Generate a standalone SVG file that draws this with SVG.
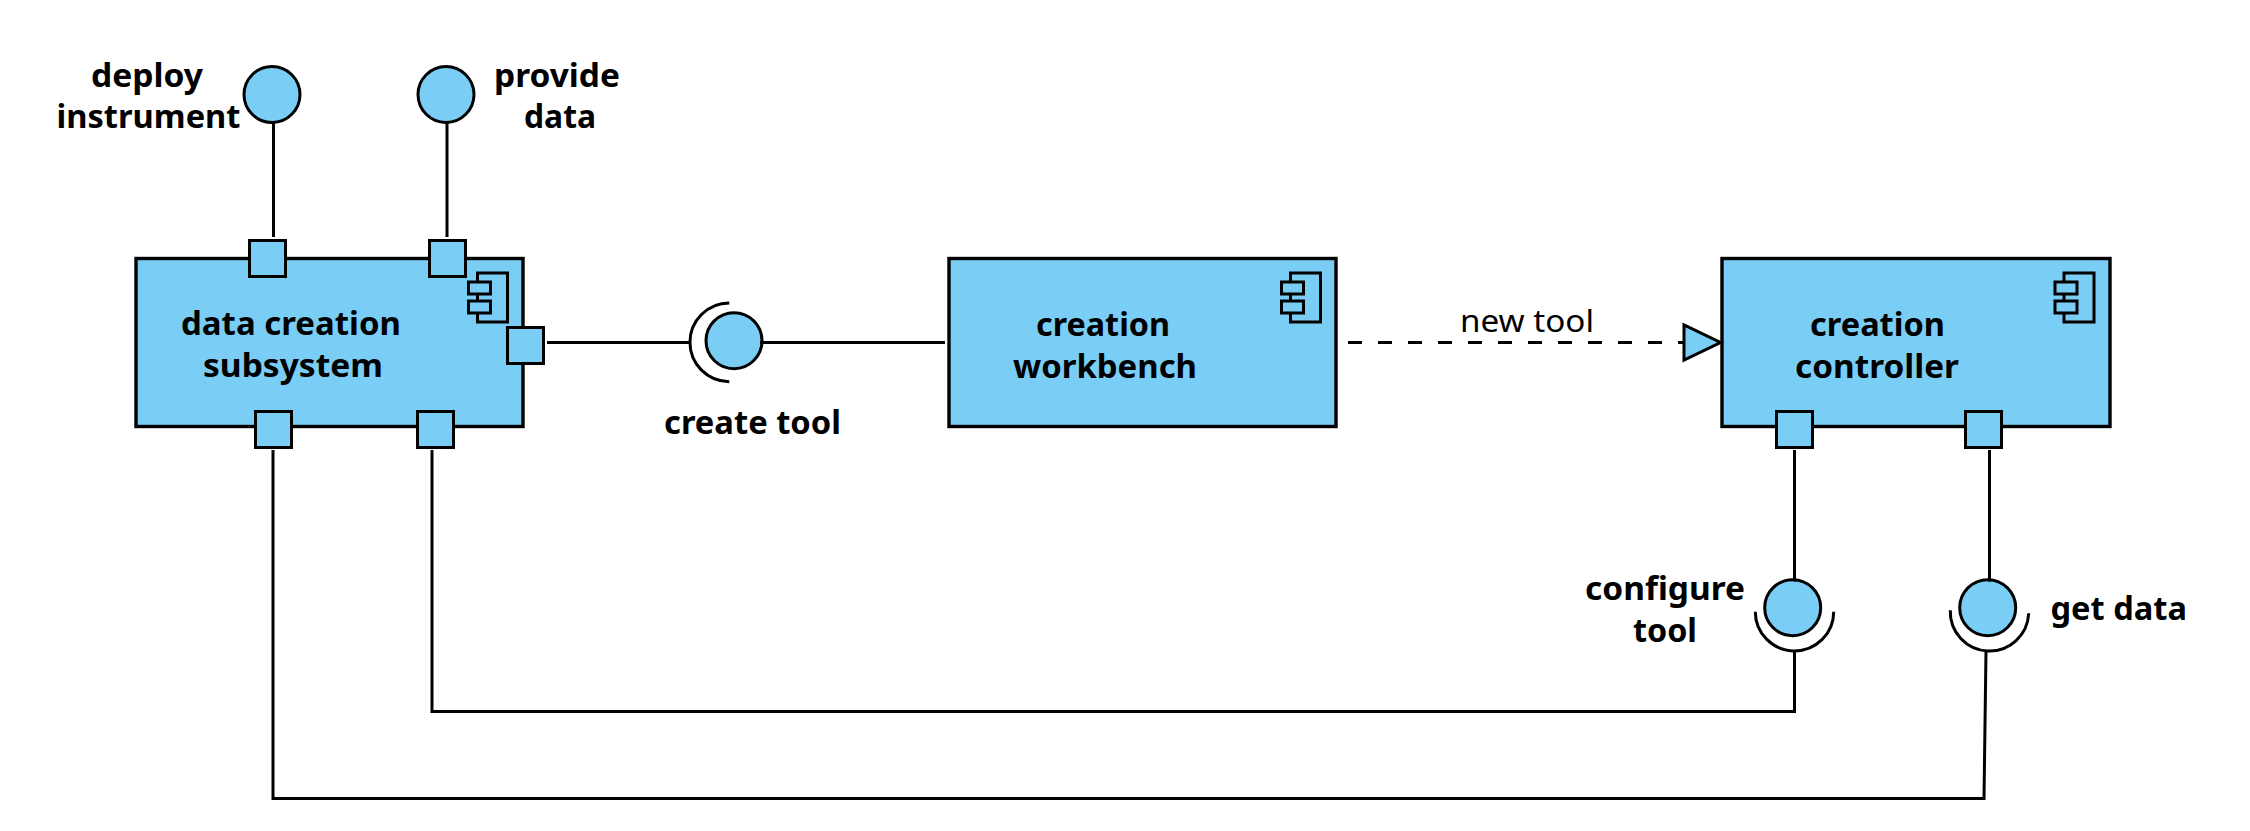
<svg xmlns="http://www.w3.org/2000/svg" width="2250" height="831" viewBox="0 0 2250 831">
<style>
.f{fill:#7acef5}
.n{fill:#7acef5;stroke:#000;stroke-width:3}
.b{fill:none;stroke:#000;stroke-width:3.4}
.i{fill:#7acef5;stroke:#000;stroke-width:3}
.c{fill:none;stroke:#000;stroke-width:3}
.a{fill:none;stroke:#000;stroke-width:3}
.l{font-family:"Noto Sans","Liberation Sans",sans-serif;font-size:32px;font-weight:700;fill:#000}
.e{font-family:"Noto Sans","DejaVu Sans",sans-serif;font-size:31px;fill:#000}
</style>
<defs>
<g id="icon"><rect class="i" x="9" y="0" width="30" height="49"/><rect class="i" x="0" y="9" width="22" height="12"/><rect class="i" x="0" y="28" width="22" height="12"/></g>
</defs>
<rect width="2250" height="831" fill="#fff"/>
<g id="data-creation-subsystem">
<rect class="f" x="136" y="258.500" width="388" height="169"/>
<rect class="b" x="136" y="258.500" width="387" height="168"/>
<use href="#icon" x="468.500" y="273"/>
<text class="l" x="181" y="335" textLength="220" lengthAdjust="spacingAndGlyphs">data creation</text>
<text class="l" x="203" y="377" textLength="180" lengthAdjust="spacingAndGlyphs">subsystem</text>
</g>
<g id="port-deploy"><rect class="n" x="249.500" y="240.500" width="36" height="36"/></g>
<g id="port-provide"><rect class="n" x="429.500" y="240.500" width="36" height="36"/></g>
<g id="port-create"><rect class="n" x="507.500" y="327.500" width="36" height="36"/></g>
<g id="port-bottom-1"><rect class="n" x="255.500" y="411.500" width="36" height="36"/></g>
<g id="port-bottom-2"><rect class="n" x="417.500" y="411.500" width="36" height="36"/></g>
<g id="creation-workbench">
<rect class="f" x="949" y="258.500" width="388" height="169"/>
<rect class="b" x="949" y="258.500" width="387" height="168"/>
<use href="#icon" x="1281.500" y="273"/>
<text class="l" x="1036" y="335.500" textLength="134" lengthAdjust="spacingAndGlyphs">creation</text>
<text class="l" x="1013" y="377.500" textLength="184" lengthAdjust="spacingAndGlyphs">workbench</text>
</g>
<g id="creation-controller">
<rect class="f" x="1722" y="258.500" width="389" height="169"/>
<rect class="b" x="1722" y="258.500" width="388" height="168"/>
<use href="#icon" x="2055" y="273"/>
<text class="l" x="1810" y="335.500" textLength="135" lengthAdjust="spacingAndGlyphs">creation</text>
<text class="l" x="1795" y="377.500" textLength="164" lengthAdjust="spacingAndGlyphs">controller</text>
</g>
<g id="port-cc-1"><rect class="n" x="1776.500" y="411.500" width="36" height="36"/></g>
<g id="port-cc-2"><rect class="n" x="1965.500" y="411.500" width="36" height="36"/></g>
<g id="deploy-instrument">
<circle class="i" cx="272" cy="94.500" r="28"/>
<text class="l" x="91" y="86.500" textLength="112" lengthAdjust="spacingAndGlyphs">deploy</text>
<text class="l" x="56.500" y="128" textLength="184" lengthAdjust="spacingAndGlyphs">instrument</text>
</g>
<g id="provide-data">
<circle class="i" cx="446" cy="94.500" r="28"/>
<text class="l" x="494" y="86.500" textLength="126" lengthAdjust="spacingAndGlyphs">provide</text>
<text class="l" x="524" y="128" textLength="72" lengthAdjust="spacingAndGlyphs">data</text>
</g>
<g id="create-tool">
<circle class="i" cx="734" cy="340.700" r="28"/>
<path class="a" d="M729.300 303A39 39 0 0 0 729.300 381.700"/>
<text class="l" x="664" y="434" textLength="177" lengthAdjust="spacingAndGlyphs">create tool</text>
</g>
<g id="configure-tool">
<circle class="i" cx="1792.700" cy="607.700" r="28"/>
<path class="a" d="M1755.300 611.700A39 39 0 0 0 1833.700 611.700"/>
<text class="l" x="1585" y="599.500" textLength="160" lengthAdjust="spacingAndGlyphs">configure</text>
<text class="l" x="1633" y="641.500" textLength="64" lengthAdjust="spacingAndGlyphs">tool</text>
</g>
<g id="get-data">
<circle class="i" cx="1987.700" cy="607.700" r="28"/>
<path class="a" d="M1950.300 610.300A39 39 0 0 0 2028.700 613.300"/>
<text class="l" x="2050.500" y="620" textLength="136.500" lengthAdjust="spacingAndGlyphs">get data</text>
</g>
<g id="connectors">
<path class="c" d="M273.500 121V237M447 121V237M547 342.500H691M760 342.500H945"/>
<path class="c" stroke-dasharray="14 16" d="M1348 342.500H1684"/>
<path class="c" d="M1794.500 450V581.500M1794.500 651V711.500H432V450M1989.500 450V581.500M1986 651L1984 798.500H273V450"/>
<polygon class="i" points="1684,325 1684,360 1720.500,342.500"/>
<text class="e" x="1460" y="332" textLength="134" lengthAdjust="spacingAndGlyphs">new tool</text>
</g>
</svg>
